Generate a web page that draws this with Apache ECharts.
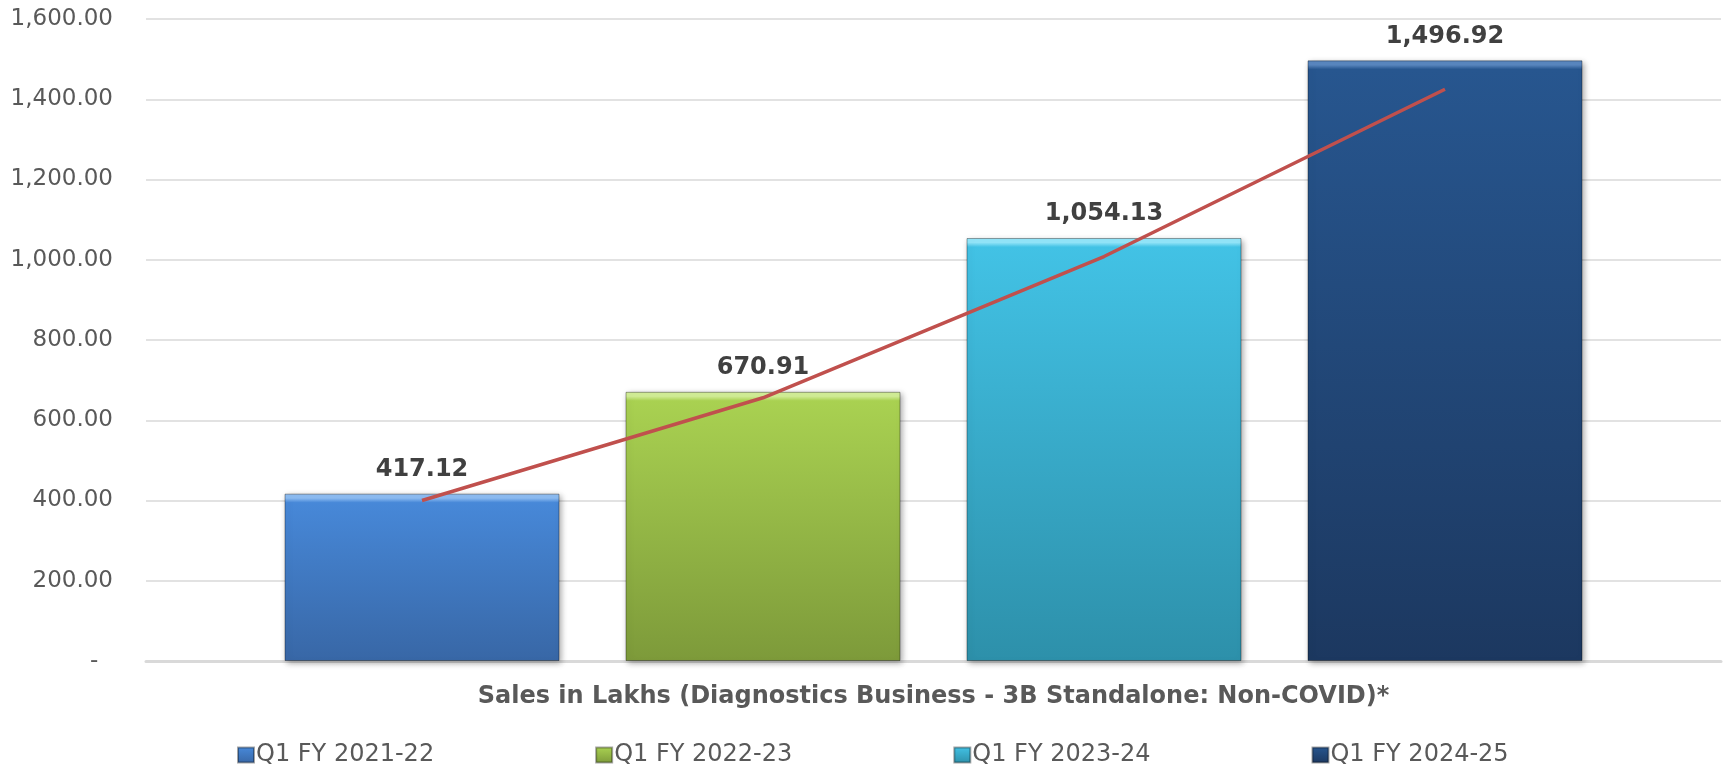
<!DOCTYPE html>
<html>
<head>
<meta charset="utf-8">
<script src="https://cdn.jsdelivr.net/npm/echarts@6/dist/echarts.min.js"></script>
<style>
html,body{margin:0;padding:0;background:#fff;}
#chart{width:1723px;height:767px;}
</style>
</head>
<body>
<div id="chart"></div>
<script>
// ---- data ----
const periods = ['Q1 FY 2021-22', 'Q1 FY 2022-23', 'Q1 FY 2023-24', 'Q1 FY 2024-25'];
const salesValues = [417.12, 670.91, 1054.13, 1496.92];
const trendValues = [400, 656, 1008, 1425];
const axisTitle = 'Sales in Lakhs (Diagnostics Business - 3B Standalone: Non-COVID)*';
const yMin = 0, yMax = 1600, yStep = 200;

// ---- styles / layout ----
const colorTop = ['#4788d8', '#a9d151', '#42c2e5', '#27568f'];
const colorBot = ['#3867a6', '#7d9a3a', '#2d90aa', '#1c3860'];
const bevel    = ['#8cbcf2', '#d2ee96', '#93e6fa', '#5a87c0'];
const gridLeft = 146, gridRight = 2, gridTop = 19, gridBottom = 106;
const W = 1723, H = 767;
const gridW = W - gridLeft - gridRight;
const gridH = H - gridTop - gridBottom;
const barW = 275, barGapPx = 66;
const slot = barW + barGapPx;
const lineGridW = slot * periods.length;
const lineGridLeft = gridLeft + (gridW - lineGridW) / 2;
const fontFam = '"DejaVu Sans", Verdana, sans-serif';

function fmt(v) {
  return v.toLocaleString('en-US', {minimumFractionDigits: 2, maximumFractionDigits: 2});
}

const barSeries = periods.map((p, i) => {
  const hPx = salesValues[i] / (yMax - yMin) * gridH;
  const b = Math.min(0.5, 9 / hPx);
  return {
    name: p,
    type: 'bar',
    xAxisIndex: 0, yAxisIndex: 0,
    barWidth: barW,
    barGap: (barGapPx / barW * 100) + '%',
    data: [salesValues[i]],
    itemStyle: {
      color: new echarts.graphic.LinearGradient(0, 0, 0, 1, [
        {offset: 0, color: bevel[i]},
        {offset: b * 0.5, color: bevel[i]},
        {offset: b, color: colorTop[i]},
        {offset: 1, color: colorBot[i]}
      ]),
      borderColor: 'rgba(0,0,0,0.35)',
      borderWidth: 1,
      shadowColor: 'rgba(0,0,0,0.35)',
      shadowBlur: 6,
      shadowOffsetX: 2,
      shadowOffsetY: 2
    },
    label: {
      show: true,
      position: 'top',
      distance: 12,
      formatter: (d) => fmt(d.value),
      color: '#404040',
      fontWeight: 'bold',
      fontSize: 24,
      fontFamily: fontFam
    }
  };
});

const option = {
  backgroundColor: '#fff',
  animation: false,
  grid: [
    {left: gridLeft, right: gridRight, top: gridTop, bottom: gridBottom},
    {left: lineGridLeft, width: lineGridW, top: gridTop, bottom: gridBottom}
  ],
  legend: {
    data: periods,
    left: 232,
    top: 738,
    itemWidth: 16,
    itemHeight: 15,
    itemGap: 161,
    icon: 'rect',
    textStyle: {color: '#595959', fontSize: 24, fontFamily: fontFam, padding: [0,0,0,-3]}
  },
  xAxis: [
    {
      type: 'category', gridIndex: 0,
      data: [axisTitle],
      axisLabel: {show: false},
      axisTick: {show: false},
      axisLine: {lineStyle: {color: '#d9d9d9', width: 3}},
      name: axisTitle,
      nameLocation: 'middle',
      nameGap: 24,
      nameTextStyle: {color: '#595959', fontWeight: 'bold', fontSize: 24, fontFamily: fontFam, verticalAlign: 'top'}
    },
    {
      type: 'category', gridIndex: 1,
      data: periods,
      show: false
    }
  ],
  yAxis: [
    {
      type: 'value', gridIndex: 0,
      min: yMin, max: yMax, interval: yStep,
      axisLine: {show: false},
      axisTick: {show: false},
      splitLine: {lineStyle: {color: '#d9d9d9', width: 1.5}},
      axisLabel: {
        color: '#595959', fontSize: 23, fontFamily: fontFam, margin: 33,
        formatter: (v) => v === 0 ? '-  ' : fmt(v)
      }
    },
    {
      type: 'value', gridIndex: 1,
      min: yMin, max: yMax, interval: yStep,
      show: false
    }
  ],
  series: [
    ...barSeries,
    {
      name: 'Trend',
      type: 'line',
      xAxisIndex: 1, yAxisIndex: 1,
      data: trendValues,
      symbol: 'none',
      lineStyle: {color: '#c0504d', width: 3.5},
      z: 5
    }
  ]
};

const chart = echarts.init(document.getElementById('chart'));
chart.setOption(option);
</script>
</body>
</html>
